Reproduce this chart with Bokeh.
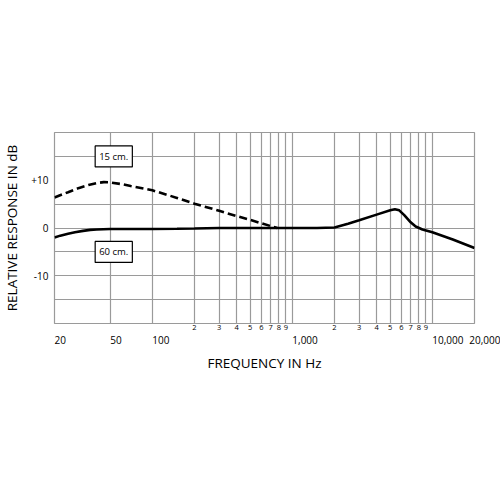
from bokeh.plotting import figure
from bokeh.models import Range1d, FixedTicker, Label, LogAxis
from bokeh.embed import file_html
from bokeh.resources import INLINE

# 60 cm. response (solid)
freq_60 = [20, 22, 25, 28, 32, 36, 40, 50, 70, 100, 150, 200, 300, 400, 500, 700,
           1000, 1500, 2000, 2500, 3000, 4000, 5000, 5400, 5800, 6300, 7000, 7600,
           8500, 10000, 14000, 20000]
db_60 = [-2.0, -1.6, -1.2, -0.9, -0.6, -0.4, -0.3, -0.2, -0.2, -0.2, -0.15, -0.1, 0, 0, 0, 0,
         0, 0, 0.1, 0.9, 1.6, 2.8, 3.7, 3.95, 3.7, 2.7, 1.2, 0.3,
         -0.3, -0.9, -2.4, -4.2]

# 15 cm. response (dashed)
freq_15 = [20, 25, 30, 35, 40, 45, 50, 60, 70, 100, 150, 200, 300, 400, 500, 600, 700, 780]
db_15 = [6.4, 7.5, 8.4, 9.0, 9.4, 9.6, 9.55, 9.2, 8.8, 7.9, 6.3, 5.1, 3.6, 2.5, 1.7, 1.0, 0.4, 0.0]

# grid and tick labels
grid_freqs = [20, 50, 100, 200, 300, 400, 500, 600, 700, 800, 900, 1000,
              2000, 3000, 4000, 5000, 6000, 7000, 8000, 9000, 10000, 20000]
grid_db = [-20, -15, -10, -5, 0, 5, 15, 20]
minor_ticks = [200, 300, 400, 500, 600, 700, 800, 900, 2000, 3000, 4000, 5000, 6000, 7000, 8000, 9000]
minor_labels = ["2", "3", "4", "5", "6", "7", "8", "9", "2", "3", "4", "5", "6", "7", "8", "9"]
major_ticks = [20, 50, 100, 1000, 10000, 20000]
major_labels = ["20", "50", "100", "1,000", "10,000", "20,000"]
y_ticks = [-10, 0, 10]
y_labels = ["-10", "0", "+10"]

# curve name boxes
box_texts = ["15 cm.", "60 cm."]
box_freqs = [53, 53]
box_db = [15, -5]

FONT = "Open Sans"
GRID = "#9a9a9a"


def plain_axis(ax, size):
    ax.axis_line_color = None
    ax.major_tick_line_color = None
    ax.minor_tick_line_color = None
    ax.major_tick_out = 0
    ax.major_tick_in = 0
    ax.minor_tick_out = 0
    ax.minor_tick_in = 0
    ax.major_label_text_font = FONT
    ax.major_label_text_font_size = size
    ax.major_label_text_color = "black"
    ax.axis_label_text_font = FONT
    ax.axis_label_text_font_size = "13.5px"
    ax.axis_label_text_font_style = "normal"
    ax.axis_label_text_color = "black"


p = figure(width=500, height=380, x_axis_type="log",
           x_range=Range1d(20, 20000), y_range=Range1d(-20, 20),
           toolbar_location=None, tools="", output_backend="svg",
           min_border_left=54, min_border_right=26, min_border_top=132, min_border_bottom=57)

p.outline_line_color = GRID
p.outline_line_width = 1.2

p.xgrid.ticker = FixedTicker(ticks=grid_freqs)
p.ygrid.ticker = FixedTicker(ticks=grid_db)
for g in (p.xgrid[0], p.ygrid[0]):
    g.grid_line_color = GRID
    g.grid_line_width = 1.2

# y axis
ya = p.yaxis[0]
plain_axis(ya, "10px")
ya.ticker = FixedTicker(ticks=y_ticks)
ya.major_label_overrides = dict(zip(y_ticks, y_labels))
ya.major_label_standoff = 6
ya.axis_label = "RELATIVE RESPONSE IN dB"
ya.axis_label_standoff = 7

# x axis: digits row
xa = p.xaxis[0]
plain_axis(xa, "7.5px")
xa.ticker = FixedTicker(ticks=minor_ticks)
xa.major_label_overrides = dict(zip(minor_ticks, minor_labels))
xa.major_label_standoff = 1

# x axis: main labels row (tiny negative angle -> text starts at its grid line)
xb = LogAxis(ticker=FixedTicker(ticks=major_ticks),
             major_label_overrides=dict(zip(major_ticks, major_labels)))
plain_axis(xb, "10px")
xb.major_label_orientation = -0.0001
xb.major_label_standoff = 7
xb.axis_label = "FREQUENCY IN Hz"
xb.axis_label_standoff = 3
p.add_layout(xb, "below")

p.line(freq_15, db_15, line_color="black", line_width=2.6, line_dash="8 4")
p.line(freq_60, db_60, line_color="black", line_width=2.6)

for t, fx, dy in zip(box_texts, box_freqs, box_db):
    p.add_layout(Label(x=fx, y=dy, text=t, text_align="center", text_baseline="middle",
                       text_font=FONT, text_font_size="9.5px", text_color="black",
                       background_fill_color="white", border_line_color="black",
                       border_line_width=1.2, padding=4))

open("out.html", "w").write(file_html(p, INLINE))
